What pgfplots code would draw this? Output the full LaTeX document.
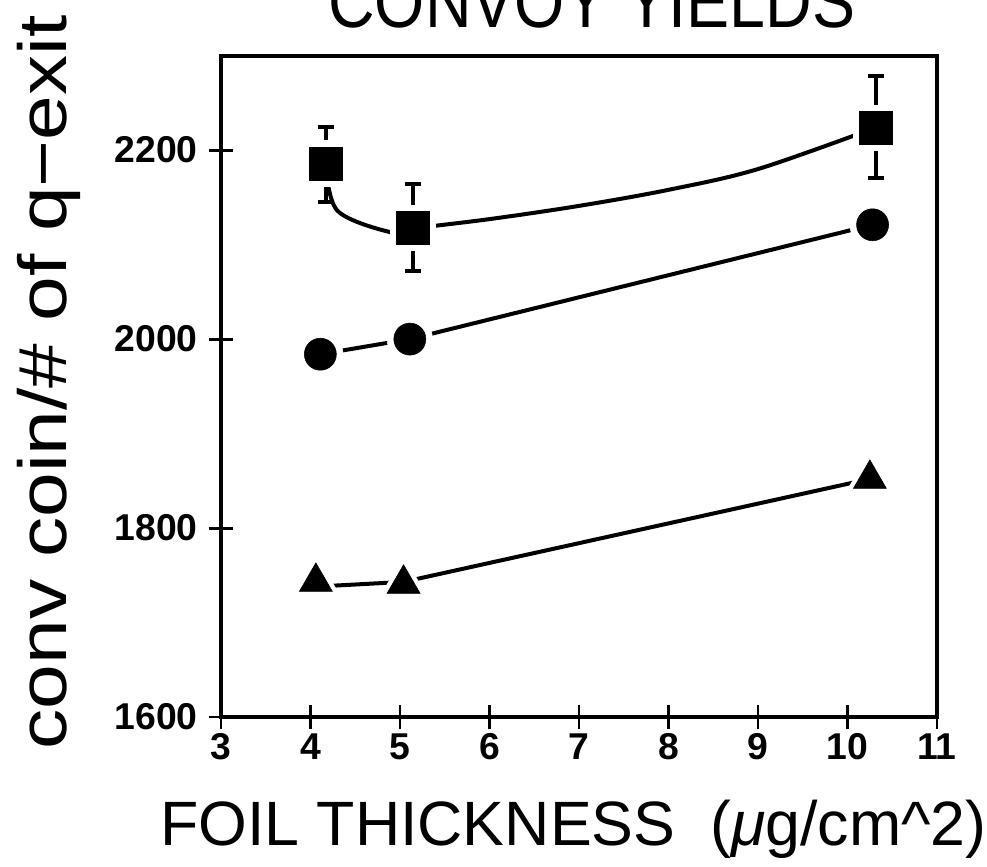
\documentclass[border=0pt]{standalone}
\usepackage{fontspec}
\setmainfont{Liberation Sans}
\usepackage{graphicx}
\usepackage{pgfplots}
\pgfplotsset{compat=1.18}
\begin{document}
\begin{tikzpicture}[x=1pt,y=1pt]
\useasboundingbox (-165.75,-111.75) rectangle (574.5,537.75);
\clip (-165.75,-111.75) rectangle (574.5,537.75);
\begin{axis}[
  scale only axis, width=537pt, height=496pt,
  at={(0,0)}, anchor=south west,
  xmin=3, xmax=11, ymin=1600, ymax=2300,
  xtick={3,4,5,6,7,8,9,10,11}, ytick={1600,1800,2000,2200},
  xtick pos=left, ytick pos=left,
  tick align=center, major tick length=18pt,
  axis line style={line width=3pt},
  every tick/.style={line width=2.2pt, black},
  ticklabel style={font=\bfseries\fontsize{28}{30}\selectfont},
  yticklabel style={xshift=-5pt},
  /pgf/number format/assume math mode=true,
  /pgf/number format/set thousands separator={},
  title={\scalebox{0.864}[1]{CONVOY YIELDS}},
  title style={font=\fontsize{56}{60}\selectfont, at={(rel axis cs:0.518,1.031)}, anchor=base},
  xlabel={FOIL THICKNESS\ \ ({\itshape μ}g/cm\textasciicircum 2)},
  xlabel style={font=\fontsize{47}{50}\selectfont, at={(rel axis cs:0.492,-0.194)}, anchor=base},
  ylabel={\scalebox{1.18}[1]{conv coin/\# of q−exit}},
  ylabel style={font=\fontsize{51}{54}\selectfont, at={(rel axis cs:-0.216,0.506)}, anchor=base, rotate=0},
]
% fitted curves
\addplot[line width=3pt, smooth, tension=0.55] coordinates {
 (4.17,2186) (4.3,2136) (4.9,2113) (5.14,2117) (6,2127) (7,2141) (8,2158) (9,2180) (10.32,2224)};
\addplot[line width=3pt] coordinates {(4.11,1984) (5.11,2000) (10.28,2121)};
\addplot[line width=3pt] coordinates {(4.06,1738) (5.04,1743) (10.25,1852)};
% error bars
\addplot[draw=none, mark=none, error bars/.cd, y dir=both, y explicit,
  error mark=|,
  error bar style={line width=3pt},
  error mark options={mark size=6pt, line width=3pt}]
  table[x=x, y=y, y error plus=ep, y error minus=em] {
x y ep em
4.17 2186 38 41
5.14 2118 46 46
10.32 2224 55 54
};
% white halos
\addplot[only marks, mark=square*, mark size=17pt, white, mark options={draw=white, fill=white}] coordinates {(4.17,2186) (5.14,2118) (10.32,2224)};
\addplot[only marks, mark=*, mark size=17pt, white, mark options={draw=white, fill=white}] coordinates {(4.11,1984) (5.11,2000) (10.28,2121)};
\addplot[only marks, mark=triangle*, mark size=21pt, white, mark options={draw=white, fill=white}] coordinates {(4.06,1743) (5.04,1741) (10.25,1852)};
% data marks
\addplot[only marks, mark=square*, mark size=12.4pt, black] coordinates {(4.17,2186) (5.14,2118) (10.32,2224)};
\addplot[only marks, mark=*, mark size=12pt, black] coordinates {(4.11,1984) (5.11,2000) (10.28,2121)};
\addplot[only marks, mark=triangle*, mark size=14.3pt, black] coordinates {(4.06,1743) (5.04,1741) (10.25,1852)};
\end{axis}
\end{tikzpicture}
\end{document}
